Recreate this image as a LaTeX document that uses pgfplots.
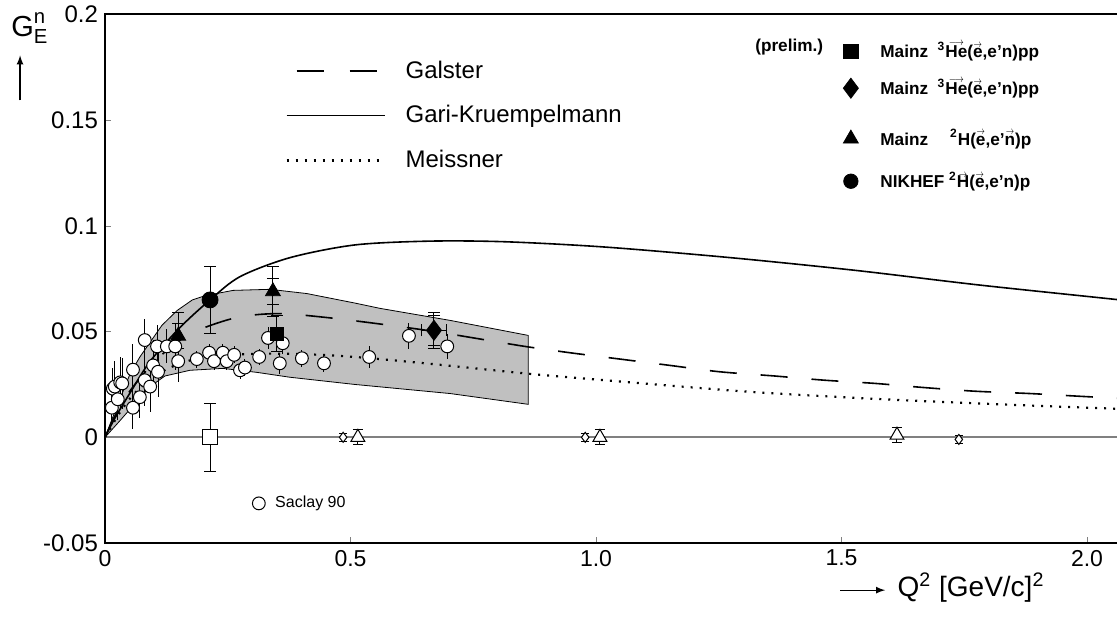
\documentclass[border=0pt]{standalone}
\usepackage{amsmath}
\usepackage{fontspec}
\setmainfont{Liberation Sans}
\usepackage{pgfplots}
\pgfplotsset{compat=1.18}

\definecolor{bandgray}{RGB}{192,192,192}
\definecolor{zerogray}{RGB}{128,128,128}
% small arrows over letters
\newcommand{\vt}[1]{\ooalign{#1\cr\hidewidth\raisebox{1.3ex}{\scalebox{0.5}[0.6]{$\longrightarrow$}}\hidewidth\cr}}
\newcommand{\va}[1]{\ooalign{#1\cr\hidewidth\raisebox{1.15ex}{\scalebox{0.45}[0.6]{$\rightarrow$}}\hidewidth\cr}}

% common frame: 1 unit x = 245.5pt, 1 unit y = 1057pt
\pgfplotsset{
  frame/.style={at={(0,0)}, anchor=south west, x=245.5pt, y=1057pt,
    xmin=0, xmax=2.1, ymin=-0.05, ymax=0.2},
  cap/.style={error bars/.cd, y dir=both, y explicit,
    error mark options={rotate=90, mark size=3pt, black, line width=0.5pt},
    error bar style={line width=0.5pt, black}},
  lineleg/.style={legend image code/.code={\draw[##1] (0pt,0pt) -- (49pt,0pt);}},
  galsterleg/.style={legend image code/.code={\draw[##1, dash pattern=on 13.5pt off 13pt] (5pt,0pt) -- (45pt,0pt);}},
  % marker legend image with extra room above (wider gap before this row)
  tallleg/.style={legend image code/.code={\path[draw=none, fill=none] (0.3cm,#1) -- (0.3cm,-2pt);
    \draw[mark repeat=2,mark phase=2,##1] plot coordinates {(0cm,0cm) (0.3cm,0cm) (0.6cm,0cm)};}},
}

\begin{document}
\begin{tikzpicture}
\begin{axis}[frame,
  xtick={0,0.5,1,1.5,2}, xticklabels={0,0.5,1.0,1.5,2.0},
  ytick={-0.05,0,0.05,0.1,0.15,0.2},
  yticklabels={-0.05,0,0.05,0.1,0.15,0.2},
  xtick pos=left, ytick pos=left,
  yticklabel style={font=\fontsize{12}{14}\selectfont},
  xticklabel style={font=\fontsize{11.5}{13}\selectfont},
  major tick length=3pt,
  axis line style={line width=1pt},
  clip=false,
  lineleg,
  legend style={at={(0.1746,0.921)}, anchor=north west, draw=none, fill=none,
    font=\fontsize{12}{14}\selectfont, row sep=8.2pt, column sep=8pt, inner sep=0pt},
  legend cell align=left,
]
% theory band
\addplot[fill=bandgray, draw=black, line width=0.4pt, forget plot] coordinates {
  (0,0) (0.020,0.012) (0.051,0.030) (0.071,0.038) (0.092,0.045) (0.116,0.053)
  (0.147,0.060) (0.178,0.065) (0.204,0.067) (0.261,0.0695) (0.336,0.070)
  (0.411,0.068) (0.509,0.0635) (0.560,0.061) (0.703,0.0553) (0.862,0.0482)
  (0.862,0.0156) (0.703,0.0207) (0.509,0.0250) (0.377,0.0284) (0.310,0.0307)
  (0.240,0.0326) (0.173,0.0317) (0.122,0.029) (0.092,0.024) (0.061,0.016)
  (0.031,0.008) (0,0)
};
% zero line
\addplot[zerogray, line width=1pt, forget plot] coordinates {(0,0) (2.1,0)};

% Galster
\addplot[black, line width=0.8pt, smooth, dash pattern=on 13.5pt off 12pt, galsterleg]
coordinates {
  (0,0) (0.020,0.010) (0.051,0.022) (0.102,0.036) (0.153,0.046) (0.204,0.052)
  (0.275,0.057) (0.356,0.0585) (0.458,0.0565) (0.580,0.053) (0.672,0.050)
  (0.769,0.0463) (0.855,0.043) (0.947,0.040) (1.049,0.037) (1.151,0.034)
  (1.252,0.031) (1.364,0.029) (1.466,0.027) (1.568,0.0255) (1.670,0.0235)
  (1.772,0.0218) (1.884,0.0207) (1.986,0.0194) (2.1,0.0180)
};
\addlegendentry{Galster}

% Gari-Kruempelmann
\addplot[black, line width=0.8pt, smooth] coordinates {
  (0,0) (0.020,0.009) (0.051,0.021) (0.092,0.036) (0.153,0.052) (0.214,0.065)
  (0.275,0.076) (0.377,0.085) (0.509,0.091) (0.662,0.0928) (0.815,0.0925)
  (1.018,0.090) (1.273,0.085) (1.527,0.079) (1.782,0.072) (2.067,0.065) (2.1,0.0638)
};
\addlegendentry{Gari-Kruempelmann}

% Meissner
\addplot[black, line width=1.1pt, smooth, dash pattern=on 1pt off 3.5pt] coordinates {
  (0,0) (0.031,0.012) (0.061,0.021) (0.102,0.029) (0.143,0.034) (0.204,0.038)
  (0.305,0.0395) (0.407,0.0393) (0.509,0.038) (0.652,0.035) (0.866,0.030)
  (1.018,0.027) (1.314,0.0215) (1.585,0.018) (1.833,0.0155) (2.037,0.0137) (2.1,0.0132)
};
\addlegendentry{Meissner}

% Saclay 90
\addplot[only marks, mark=*, mark size=3.2pt, mark options={fill=white, draw=black, line width=0.5pt},
  forget plot, error bars/.cd, y dir=both, y explicit, error mark=none,
  error bar style={line width=0.5pt, black}]
coordinates {
  (0.014,0.014) +- (0,0.008)
  (0.016,0.023) +- (0,0.010)
  (0.020,0.024) +- (0,0.012)
  (0.026,0.018) +- (0,0.010)
  (0.031,0.026) +- (0,0.012)
  (0.035,0.0255) +- (0,0.012)
  (0.057,0.032) +- (0,0.012)
  (0.057,0.014) +- (0,0.010)
  (0.071,0.019) +- (0,0.010)
  (0.081,0.046) +- (0,0.010)
  (0.081,0.027) +- (0,0.012)
  (0.092,0.024) +- (0,0.012)
  (0.098,0.034) +- (0,0.012)
  (0.106,0.043) +- (0,0.010)
  (0.108,0.031) +- (0,0.012)
  (0.126,0.043) +- (0,0.008)
  (0.143,0.043) +- (0,0.011)
  (0.149,0.036) +- (0,0.010)
  (0.187,0.037) +- (0,0.004)
  (0.212,0.040) +- (0,0.004)
  (0.222,0.036) +- (0,0.004)
  (0.240,0.040) +- (0,0.004)
  (0.248,0.036) +- (0,0.004)
  (0.263,0.039) +- (0,0.004)
  (0.275,0.0317) +- (0,0.004)
  (0.285,0.033) +- (0,0.004)
  (0.314,0.038) +- (0,0.004)
  (0.332,0.047) +- (0,0.005)
  (0.356,0.035) +- (0,0.005)
  (0.362,0.0445) +- (0,0.005)
  (0.401,0.0374) +- (0,0.004)
  (0.446,0.035) +- (0,0.004)
  (0.538,0.038) +- (0,0.005)
  (0.619,0.048) +- (0,0.006)
  (0.697,0.043) +- (0,0.006)
};

% NIKHEF
\addplot[only marks, mark=*, mark size=4pt, black, forget plot, cap]
coordinates {(0.214,0.065) +- (0,0.016)};
% Mainz 2H triangles: total and statistical errors
\addplot[only marks, mark=triangle*, mark size=4.3pt, black, forget plot, cap]
coordinates {(0.149,0.048) +- (0,0.011) (0.342,0.069) +- (0,0.012)};
\addplot[only marks, mark=none, forget plot, cap]
coordinates {(0.149,0.048) +- (0,0.006) (0.342,0.069) +- (0,0.006)};
% Mainz 3He square (prelim.)
\addplot[only marks, mark=square*, mark size=3.4pt, black, forget plot, cap]
coordinates {(0.350,0.049) +- (0,0.0085)};
% Mainz 3He diamond
\addplot[only marks, mark=diamond*, mark size=5pt, black, forget plot,
  error bars/.cd, y dir=both, y explicit, x dir=both, x explicit,
  error mark options={rotate=90, mark size=3pt, black, line width=0.5pt},
  error bar style={line width=0.5pt, black}]
coordinates {(0.670,0.0506) +- (0.0245,0.0085)};
\addplot[only marks, mark=none, forget plot, cap]
coordinates {(0.670,0.0506) +- (0,0.007)};
% open square at zero
\addplot[only marks, mark=square*, mark size=3.8pt, mark options={fill=white, draw=black, line width=0.5pt},
  forget plot, cap]
coordinates {(0.214,0.0) +- (0,0.016)};
% small open diamonds at zero
\addplot[only marks, mark=diamond*, mark size=2.5pt, mark options={fill=white, draw=black, line width=0.5pt},
  forget plot, error bars/.cd, y dir=both, y explicit,
  error mark options={rotate=90, mark size=2pt, black, line width=0.5pt},
  error bar style={line width=0.5pt, black}]
coordinates {(0.485,0.0) +- (0,0.002) (0.978,0.0) +- (0,0.002) (1.739,-0.001) +- (0,0.002)};
% open triangles at zero
\addplot[only marks, mark=triangle*, mark size=4pt, mark options={fill=white, draw=black, line width=0.5pt},
  forget plot, error bars/.cd, y dir=both, y explicit,
  error mark options={rotate=90, mark size=2.5pt, black, line width=0.5pt},
  error bar style={line width=0.5pt, black}]
coordinates {(0.515,0.0) +- (0,0.0035) (1.008,0.0) +- (0,0.0035) (1.613,0.001) +- (0,0.0035)};

% axis labels
\node[font=\fontsize{14.5}{16}\selectfont] at (axis cs:-0.153,0.1935)
  {$\text{G}^{\text{n}}_{\text{E}}$};
\draw[-latex, line width=0.6pt] (axis cs:-0.173,0.1594) -- (axis cs:-0.173,0.1807);
\draw[-latex, line width=0.6pt] (axis cs:1.497,-0.0723) -- (axis cs:1.589,-0.0723);
\node[anchor=west, font=\fontsize{14}{16}\selectfont] at (axis cs:1.600,-0.0710)
  {Q\textsuperscript{2} [GeV/c]\textsuperscript{2}};
\node[anchor=east, font=\bfseries\fontsize{8.6}{10}\selectfont] at (axis cs:1.477,0.1845) {(prelim.)};
\end{axis}

% legend of the measurements
\begin{axis}[frame, hide axis,
  legend style={at={(0.7157,0.9568)}, anchor=north west, draw=none, fill=none,
    font=\bfseries\fontsize{8.6}{10}\selectfont, row sep=5pt, column sep=9pt, inner sep=0pt},
  legend cell align=left,
]
\addlegendimage{only marks, mark=square*, mark size=3.6pt, black}
\addlegendentry{\raisebox{0pt}[8pt][4pt]{Mainz\ \ \textsuperscript{3}\vt{He}(\va{e},e'n)pp}}
\addlegendimage{only marks, mark=diamond*, mark size=5pt, black}
\addlegendentry{\raisebox{0pt}[8pt][4pt]{Mainz\ \ \textsuperscript{3}\vt{He}(\va{e},e'n)pp}}
\addlegendimage{only marks, mark=triangle*, mark size=4.3pt, black, tallleg=13.5pt}
\addlegendentry{\raisebox{0pt}[8pt][4pt]{Mainz\quad\ \textsuperscript{2}H(\va{e},e'\va{n})p}}
\addlegendimage{only marks, mark=*, mark size=3.6pt, black, tallleg=9.5pt}
\addlegendentry{\raisebox{0pt}[8pt][4pt]{NIKHEF \textsuperscript{2}\va{H}(\va{e},e'n)p}}
\end{axis}

% Saclay legend
\begin{axis}[frame, hide axis,
  legend style={at={(0.1426,0.075)}, anchor=west, draw=none, fill=none,
    font=\fontsize{8}{10}\selectfont, column sep=3pt, inner sep=0pt},
]
\addlegendimage{only marks, mark=*, mark size=3.2pt, mark options={fill=white, draw=black, line width=0.5pt}}
\addlegendentry{Saclay 90}
\end{axis}

\pgfresetboundingbox
\path[use as bounding box] (current axis.south west) ++(-52.5pt,-37.5pt) rectangle ++(558.5pt,309pt);
\end{tikzpicture}
\end{document}
